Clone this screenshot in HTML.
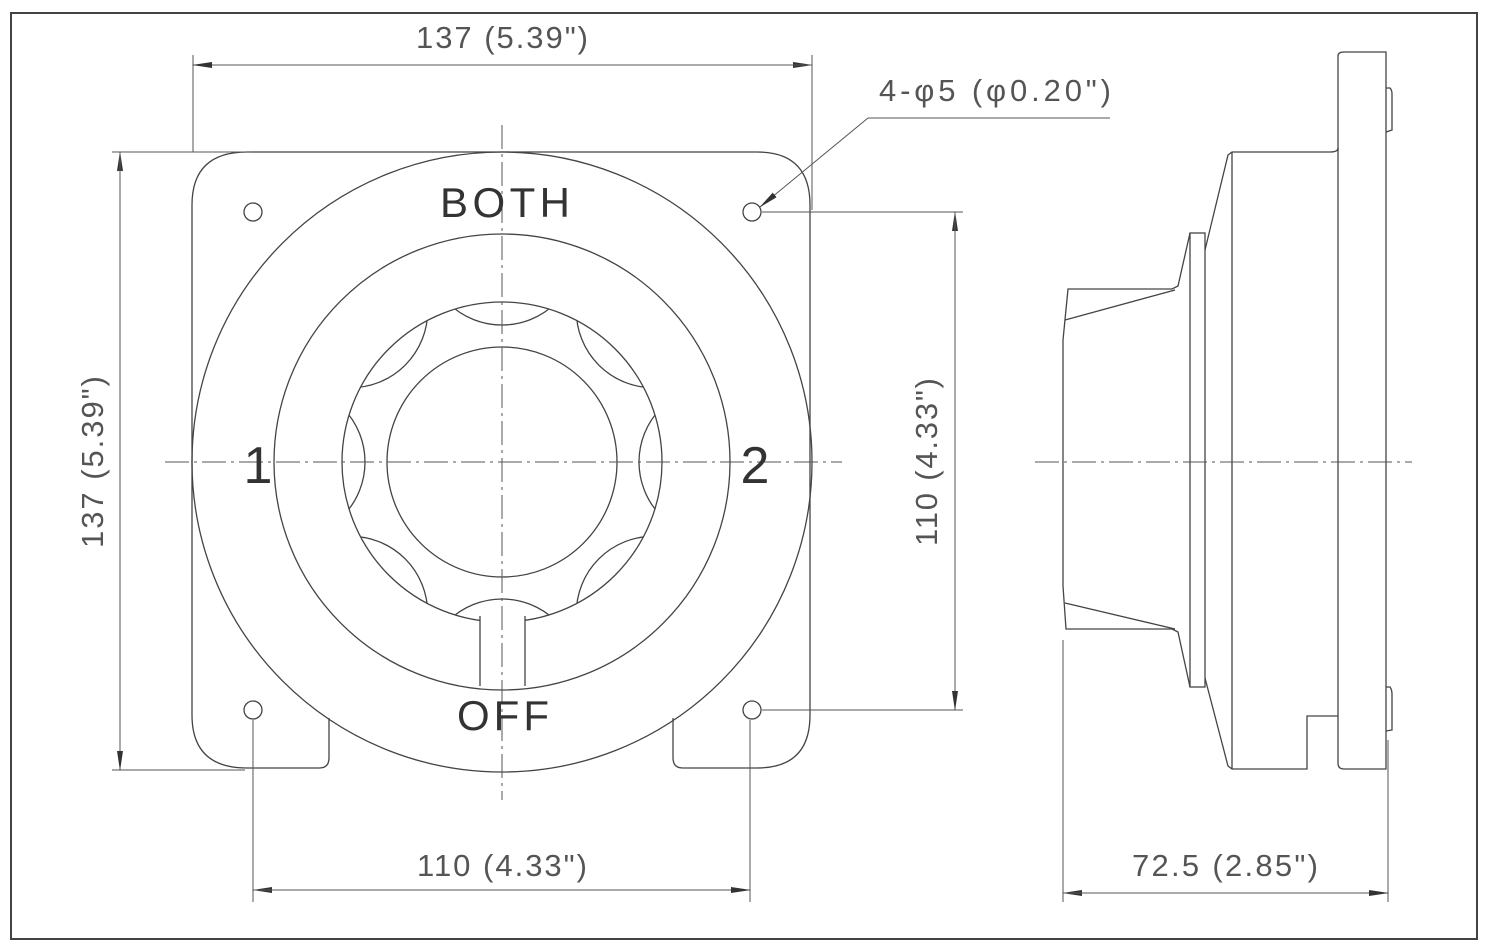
<!DOCTYPE html>
<html><head><meta charset="utf-8"><style>
html,body{margin:0;padding:0;background:#fff;}
svg{display:block;}
text{font-family:"Liberation Sans",sans-serif;}
</style></head><body>
<svg width="1488" height="951" viewBox="0 0 1488 951" xmlns="http://www.w3.org/2000/svg">
<defs>
<clipPath id="knob"><circle cx="502" cy="462" r="160"/></clipPath>
<marker id="ar" markerWidth="20" markerHeight="8" refX="19" refY="4" orient="auto" markerUnits="userSpaceOnUse"><path d="M0,1 L20,4 L0,7 Z" fill="#333"/></marker>
</defs>
<rect x="11" y="13" width="1466" height="926" fill="none" stroke="#444" stroke-width="2"/>
<g fill="none" stroke="#444" stroke-width="1.3">
<path d="M247,152 L757,152 Q810,152 810,205 L810,715 Q810,768 757,768 L683,768 Q673,768 673,758 L673,718 M329,718 L329,758 Q329,768 319,768 L247,768 Q192,768 192,715 L192,205 Q192,152 247,152"/>
<circle cx="502" cy="462" r="310"/>
<circle cx="502" cy="462" r="228"/>
<circle cx="502" cy="462" r="160"/>
<circle cx="502" cy="462" r="115"/>
<g clip-path="url(#knob)">
<circle cx="502" cy="248" r="77"/><circle cx="502" cy="676" r="77"/>
<circle cx="288" cy="462" r="77"/><circle cx="716" cy="462" r="77"/>
<circle cx="350.7" cy="310.7" r="77"/><circle cx="653.3" cy="310.7" r="77"/>
<circle cx="350.7" cy="613.3" r="77"/><circle cx="653.3" cy="613.3" r="77"/>
</g>
<rect x="480" y="618" width="45" height="70" fill="#fff" stroke="none"/>
<path d="M480,616 L480,686 M525,616 L525,686"/>
<circle cx="253" cy="212" r="9"/><circle cx="752" cy="212" r="9"/>
<circle cx="253" cy="710" r="9"/><circle cx="752" cy="710" r="9"/>
<path d="M1338,56 Q1338,52 1344,52 L1386,52 L1386,769 L1344,769 Q1338,769 1338,763 Z"/>
<path d="M1386,88 L1390,88 Q1392,90 1392,94 L1392,130 L1386,132 M1386,687 L1390,687 Q1392,690 1392,694 L1392,730 L1386,731"/>
<path d="M1338,148 Q1338,152 1330,152 L1232,152 L1228,155 L1205,250 M1232,152 L1232,769 M1205,678 L1228,766 L1232,769 L1307,769 L1307,716 L1338,716"/>
<rect x="1190" y="233" width="15" height="454"/>
<path d="M1190,233 L1178,286 L1172,289 L1068,289 L1063,340 L1063,586 L1066,629 L1172,629 L1178,632 L1190,687"/>
<path d="M1065,320 L1175,290 M1065,603 L1175,629"/>
</g>
<g stroke="#555" stroke-width="1" stroke-dasharray="24,5,3,5" fill="none">
<path d="M165,462 L842,462 M502,125 L502,800 M1035,462 L1412,462"/>
</g>
<g stroke="#555" stroke-width="1" fill="none">
<path d="M193,55 L193,152 M812,55 L812,210"/>
<path d="M193,65 L812,65" marker-end="url(#ar)"/>
<path d="M812,65 L193,65" marker-end="url(#ar)"/>
<path d="M112,152 L250,152 M112,770 L245,770"/>
<path d="M120,770 L120,152" marker-end="url(#ar)"/>
<path d="M120,152 L120,770" marker-end="url(#ar)"/>
<path d="M762,212 L963,212 M762,710 L963,710"/>
<path d="M955,710 L955,212" marker-end="url(#ar)"/>
<path d="M955,212 L955,710" marker-end="url(#ar)"/>
<path d="M253,720 L253,902 M750,720 L750,902"/>
<path d="M750,890 L253,890" marker-end="url(#ar)"/>
<path d="M253,890 L750,890" marker-end="url(#ar)"/>
<path d="M1063,640 L1063,902 M1388,740 L1388,902"/>
<path d="M1388,893 L1063,893" marker-end="url(#ar)"/>
<path d="M1063,893 L1388,893" marker-end="url(#ar)"/>
<path d="M1110,118 L868,118"/>
<path d="M868,118 L760,207" marker-end="url(#ar)"/>
</g>
<g fill="#555" font-size="31">
<text x="502" y="48" text-anchor="middle" textLength="172">137 (5.39")</text>
<text x="995" y="101" text-anchor="middle" textLength="232">4-φ5 (φ0.20")</text>
<text x="502" y="876" text-anchor="middle" textLength="170">110 (4.33")</text>
<text x="1225" y="876" text-anchor="middle" textLength="186">72.5 (2.85")</text>
<text transform="translate(103,462) rotate(-90)" text-anchor="middle" textLength="172">137 (5.39")</text>
<text transform="translate(937,462) rotate(-90)" text-anchor="middle" textLength="168">110 (4.33")</text>
</g>
<g fill="#333" font-size="42">
<text x="505" y="217" text-anchor="middle" textLength="130">BOTH</text>
<text x="503" y="730" text-anchor="middle" textLength="92">OFF</text>
<text x="258" y="483" text-anchor="middle" font-size="52">1</text>
<text x="755" y="483" text-anchor="middle" font-size="52">2</text>
</g>
</svg>
</body></html>
